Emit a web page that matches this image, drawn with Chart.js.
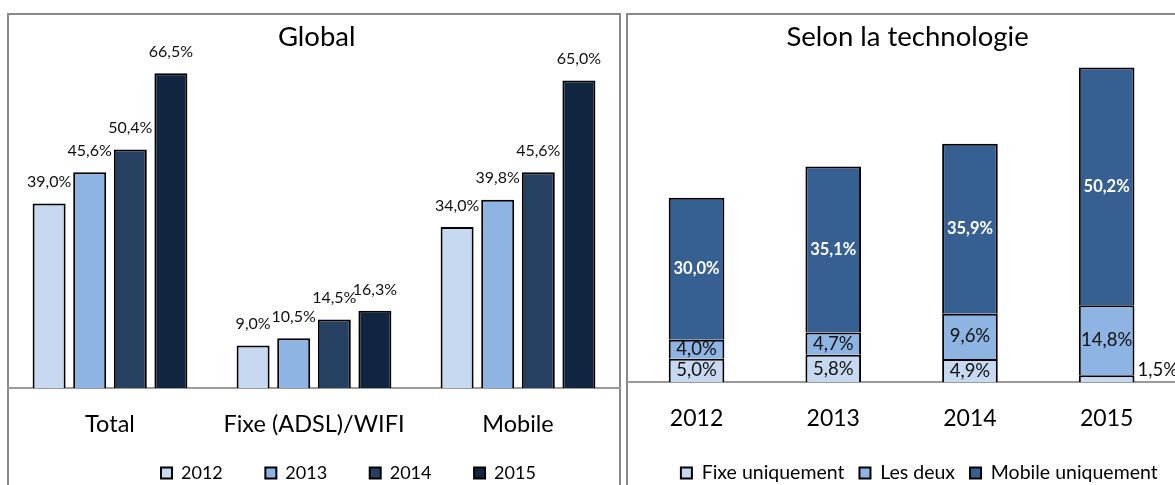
<!DOCTYPE html>
<html>
<head>
<meta charset="utf-8">
<script src="https://cdn.jsdelivr.net/npm/chart.js@4.4.1/dist/chart.umd.min.js"></script>
<style>
  body { margin: 0; width: 1175px; height: 485px; overflow: hidden; position: relative; background: #fff; }
  .panel { position: absolute; border: 2px solid #898989; box-sizing: border-box; }
  #panelLeft { left: 7px; top: 13px; width: 614px; height: 560px; }
  #panelRight { left: 626px; top: 13px; width: 620px; height: 560px; }
  canvas { position: absolute; top: 0; }
  #global { left: 0; }
  #techno { left: 624px; }
</style>
</head>
<body>
<div class="panel" id="panelLeft"></div>
<div class="panel" id="panelRight"></div>
<canvas id="global" width="624" height="560"></canvas>
<canvas id="techno" width="551" height="560"></canvas>
<script>
// ---- data, left chart (Global)
const usageCats = ['Total', 'Fixe (ADSL)/WIFI', 'Mobile'];
const yearNames = ['2012', '2013', '2014', '2015'];
const y2012 = [39.0, 9.0, 34.0];
const y2013 = [45.6, 10.5, 39.8];
const y2014 = [50.4, 14.5, 45.6];
const y2015 = [66.5, 16.3, 65.0];

// ---- data, right chart (Selon la technologie)
const techYears = ['2012', '2013', '2014', '2015'];
const fixeOnly = [5.0, 5.8, 4.9, 1.5];
const lesDeux = [4.0, 4.7, 9.6, 14.8];
const mobileOnly = [30.0, 35.1, 35.9, 50.2];

Chart.defaults.font.family = 'Lato';
Chart.defaults.color = '#000';

function pct(v){
    return v.toFixed(1).replace('.', ',') + '%';
}

// moves legend / title to where the original sits
const placeBoxes = {
    id: 'placeBoxes',
    afterLayout(chart, args, opts){
        const lg = chart.legend;
        if (lg && opts.legendX != null){
            const lab = lg.options.labels;
            const pad = lab.padding;
            const cur = (lg.left + pad + lg.right - lg.lineWidths[0]) / 2;
            const dx = opts.legendX - cur;
            lg.left += dx;
            lg.right += dx;
            const itemH = Math.max(lab.font.size, lab.boxHeight);
            const dy = opts.legendY - (lg.top + pad + itemH / 2);
            lg.top += dy;
            lg.bottom += dy;
        }
        const tb = chart.titleBlock;
        if (tb && opts.titleDx){
            tb.left += opts.titleDx;
            tb.right += opts.titleDx;
        }
    }
};

// value labels drawn on / above the bars
const barLabels = {
    id: 'barLabels',
    afterDatasetsDraw(chart, args, opts){
        const ctx = chart.ctx;
        ctx.save();
        chart.data.datasets.forEach((ds, i) => {
            const meta = chart.getDatasetMeta(i);
            meta.data.forEach((bar, j) => {
                const v = ds.data[j];
                if (opts.mode == 'above'){
                    ctx.font = '16px Lato';
                    ctx.fillStyle = '#111';
                    ctx.textAlign = 'center';
                    ctx.textBaseline = 'middle';
                    ctx.fillText(pct(v), bar.x, bar.y - 21.5);
                } else {
                    const mid = (bar.y + bar.base) / 2;
                    const h = bar.base - bar.y;
                    if (ds.labelBold){
                        ctx.font = 'bold 16.5px Lato';
                        ctx.fillStyle = '#fff';
                    } else {
                        ctx.font = '18.5px Lato';
                        ctx.fillStyle = '#111';
                    }
                    ctx.textBaseline = 'middle';
                    if (h < 14){
                        ctx.textAlign = 'left';
                        ctx.fillText(pct(v), bar.x + bar.width / 2 + 3, mid - 9);
                    } else {
                        ctx.textAlign = 'center';
                        ctx.fillText(pct(v), bar.x, mid);
                    }
                }
            });
        });
        ctx.restore();
    }
};

//====================================
// Left chart
const leftColors = ['#C6D9F1', '#8DB4E2', '#254061', '#10253F'];
const leftSeries = [y2012, y2013, y2014, y2015];

new Chart(document.getElementById('global'), {
    type: 'bar',
    data: {
        labels: usageCats,
        datasets: leftSeries.map((vals, i) => ({
            label: yearNames[i],
            data: vals,
            backgroundColor: leftColors[i],
            borderColor: '#000',
            borderWidth: 2,
            categoryPercentage: 0.796,
            barPercentage: 0.813
        }))
    },
    options: {
        responsive: false,
        animation: false,
        layout: { padding: { left: 8, right: 4, top: 0, bottom: 9 } },
        scales: {
            x: {
                grid: { display: false, drawTicks: false },
                border: { display: true, color: '#9a9a9a', width: 2 },
                ticks: { font: { size: 23.5 }, padding: 22.8, autoSkip: false, maxRotation: 0 },
                afterFit: s => { s.height = 92.4; }
            },
            y: { display: false, min: 0, max: 68 }
        },
        plugins: {
            title: {
                display: true,
                text: 'Global',
                font: { size: 27.5, weight: 'normal' },
                padding: { top: 21, bottom: 12.2 }
            },
            legend: {
                position: 'bottom',
                labels: { font: { size: 18 }, boxWidth: 11, boxHeight: 11, padding: 42.6 }
            },
            tooltip: { enabled: false },
            placeBoxes: { legendX: 161, legendY: 473, titleDx: 2.7 },
            barLabels: { mode: 'above' }
        }
    },
    plugins: [placeBoxes, barLabels]
});

//====================================
// Right chart (stacked)
new Chart(document.getElementById('techno'), {
    type: 'bar',
    data: {
        labels: techYears,
        datasets: [
            { label: 'Fixe uniquement', data: fixeOnly, backgroundColor: '#C6D9F1' },
            { label: 'Les deux', data: lesDeux, backgroundColor: '#8DB4E2' },
            { label: 'Mobile uniquement', data: mobileOnly, backgroundColor: '#376092', labelBold: true }
        ].map(ds => Object.assign(ds, {
            borderColor: '#000', borderWidth: 2, barPercentage: 0.407, categoryPercentage: 1
        }))
    },
    options: {
        responsive: false,
        animation: false,
        layout: { padding: { left: 4.2, right: 0, top: 0, bottom: 9 } },
        scales: {
            x: {
                stacked: true,
                grid: { display: false, drawTicks: false },
                border: { display: true, color: '#9a9a9a', width: 2 },
                ticks: { font: { size: 23 }, padding: 22.2, autoSkip: false, maxRotation: 0 },
                afterFit: s => { s.height = 124.2; }
            },
            y: { display: false, stacked: true, min: 0, max: 68 }
        },
        plugins: {
            title: {
                display: true,
                text: 'Selon la technologie',
                font: { size: 27.5, weight: 'normal' },
                padding: { top: 21, bottom: 6.5 }
            },
            legend: {
                position: 'bottom',
                labels: { font: { size: 19.5 }, boxWidth: 11, boxHeight: 11, padding: 15 }
            },
            tooltip: { enabled: false },
            placeBoxes: { legendX: 56.9, legendY: 473, titleDx: 6 },
            barLabels: { mode: 'inside' }
        }
    },
    plugins: [placeBoxes, barLabels]
});
</script>
</body>
</html>
